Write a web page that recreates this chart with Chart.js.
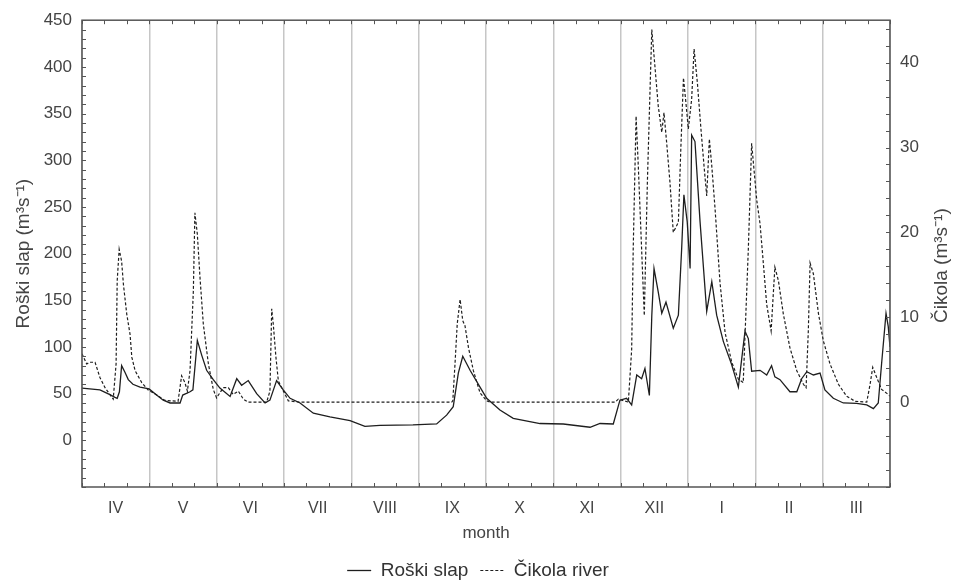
<!DOCTYPE html>
<html>
<head>
<meta charset="utf-8">
<script src="https://cdn.jsdelivr.net/npm/chart.js@4.4.1/dist/chart.umd.min.js"></script>
<style>
  html, body { margin: 0; padding: 0; background: #fff; }
</style>
</head>
<body>
<canvas id="flow" width="956" height="584"></canvas>
<script>
var months = ["IV", "V", "VI", "VII", "VIII", "IX", "X", "XI", "XII", "I", "II", "III"]
var leftTicks = [0, 50, 100, 150, 200, 250, 300, 350, 400, 450]
var rightTicks = [0, 10, 20, 30, 40]

// day of the hydrological year (1 April = 0)
var roskiDay = [0, 8.1, 12.6, 14.9, 15.9, 16.9, 17.9, 19.4, 20.9, 23, 26.2, 30.3, 33.7, 36.7, 39.8, 44.3, 45.5, 48.8, 50.1, 52.1, 54.1, 56.3, 59.3, 62.3, 66.9, 69.9, 72.1, 75.1, 78.9, 82.7, 84.9, 87.9, 90.9, 94, 98.5, 104.5, 112, 121.1, 127.8, 134.6, 149.5, 160.2, 164.7, 167.7, 170, 172, 175.3, 179.8, 182.8, 188.8, 194.8, 206.9, 217.4, 229.5, 234, 240, 243, 246, 248.3, 250.6, 252.8, 254.3, 256.3, 257.4, 258.4, 260.3, 261.9, 263.8, 267.1, 269.4, 270.9, 271.9, 273.4, 274.7, 275.4, 276.9, 279.2, 282.2, 284.5, 286.7, 289.7, 293.5, 296.5, 299.5, 301, 302.5, 306.3, 309.3, 311.5, 313, 315.3, 319.8, 322.9, 325.1, 327.4, 330.4, 333.4, 335.6, 339.4, 343.9, 349.9, 354.5, 357.5, 359.7, 361.2, 363.2, 364.2, 365]
var roskiFlow = [56, 54, 49, 46, 45, 52, 80, 73, 65, 60, 57, 55, 48.5, 43, 40, 40, 48.5, 52, 54, 107, 91, 75, 65, 56, 47, 66, 59, 64, 50, 40, 43, 64, 54, 45, 40, 29, 25, 21, 15, 16, 16.5, 17.5, 27, 36, 72, 90, 75, 57, 45, 32.5, 23.6, 18, 17.5, 14, 18, 17.5, 43, 45, 38, 70, 66, 77, 48, 134, 184, 159, 136, 148, 120, 134, 206, 263, 234, 184, 327, 320, 234, 138, 170, 134, 106, 81, 57, 117, 109, 74, 75, 70, 80, 68, 65, 52, 52, 66, 73.5, 70, 72, 54, 45, 40, 39.6, 38, 34, 40, 82, 136, 122, 100]

var cikolaDay = [0, 2.1, 3.6, 5.9, 8.1, 10.4, 12.6, 14.1, 15.4, 15.9, 16.8, 17.9, 18.7, 20.2, 21.7, 22.5, 24, 27, 30, 32.2, 37.5, 43.4, 45, 46.5, 47.6, 48.8, 50.3, 51, 52.1, 53.3, 54.8, 57.1, 59.3, 60.8, 63.8, 66.1, 68.3, 70.6, 72.9, 75.1, 83.4, 84.9, 85.7, 86.4, 87.6, 88.7, 90.2, 93.2, 98.5, 167, 167.5, 168.5, 169.5, 170.8, 172, 173, 174.6, 176.8, 179.8, 182.8, 184.3, 240.8, 242.3, 246.8, 248.3, 249, 250.3, 251.3, 252.8, 254, 255.4, 256.3, 257.4, 258.8, 260.3, 261.9, 262.9, 264.1, 265.6, 267.1, 269.4, 270.5, 271.7, 272.8, 273.9, 275.4, 276.5, 278, 279.5, 281, 282.2, 283.4, 284.5, 286, 288.2, 290.5, 293.5, 296.5, 298.7, 301, 302.5, 304.8, 306.3, 307.8, 309.3, 311.3, 313, 314.6, 316.8, 319.8, 322.9, 325.9, 327.1, 328.1, 328.9, 330.4, 332.7, 334.9, 337.9, 341.7, 345.4, 349.2, 354.5, 356, 357.2, 359, 361.2, 364.2, 365]
var cikolaFlow = [5.7, 4.5, 4.7, 4.7, 2.9, 1.7, 0.9, 0.35, 4.5, 14.3, 18, 16.6, 13.9, 10.4, 8, 5.3, 3.7, 2.3, 1.4, 1.1, 0.2, 0.1, 3.1, 2.3, 1.3, 3.7, 13.1, 22.3, 19.8, 14.7, 9.2, 4.5, 1.5, 0.5, 1.7, 1.7, 0.9, 1.3, 0.35, 0, 0, 1.3, 11, 9.2, 5.3, 2.5, 1.7, 0.15, 0, 0, 0.15, 4.5, 9.2, 12.1, 9.6, 9, 6.4, 3.7, 1.1, 0.15, 0, 0, 0.35, 0, 6.2, 18, 33.7, 27.8, 18, 10.2, 25.9, 34.1, 43.9, 39.6, 34.9, 31.8, 34.1, 30.6, 25.9, 20, 21.2, 29.8, 38.2, 35.3, 32.2, 35.7, 41.6, 37.6, 32.5, 27.8, 24.3, 31, 27.8, 22.7, 14.1, 8.2, 4.7, 2.7, 2.3, 18, 30.5, 23.8, 21, 16.3, 11.5, 8.4, 15.9, 14.3, 10.4, 6.4, 3.7, 2.1, 1.7, 8.4, 16.4, 15.1, 10.4, 7.2, 4.5, 2.1, 0.7, 0.1, 0, 2.1, 4.1, 2.9, 1.5, 0.9, 0.7]

var yearDays = 365
var monthLen = yearDays / 12
var fontFamily = "'Liberation Sans', Arial, sans-serif"
var textColor = '#444'

function points(days, vals) {
  return days.map((d, i) => ({ x: d, y: vals[i] }))
}

// frame, inward minor ticks and the right axis title (reads bottom to top)
var frame = {
  id: 'frame',
  afterDraw(chart) {
    var a = chart.chartArea, ctx = chart.ctx, s = chart.scales
    ctx.save()
    ctx.strokeStyle = '#555'
    ctx.lineWidth = 1
    ctx.beginPath()
    for (var v = -50; v <= 450; v += 10) {
      var y = Math.round(s.y.getPixelForValue(v)) + 0.5
      ctx.moveTo(a.left, y); ctx.lineTo(a.left + 4, y)
    }
    for (v = -10; v <= 45; v += 2) {
      y = Math.round(s.y2.getPixelForValue(v)) + 0.5
      ctx.moveTo(a.right, y); ctx.lineTo(a.right - 4, y)
    }
    for (var i = 0; i <= 36; i++) {
      var x = Math.round(s.x.getPixelForValue(i * yearDays / 36)) + 0.5
      ctx.moveTo(x, a.top); ctx.lineTo(x, a.top + 4)
      ctx.moveTo(x, a.bottom); ctx.lineTo(x, a.bottom - 4)
    }
    ctx.stroke()
    ctx.lineWidth = 1.5
    ctx.strokeRect(a.left, a.top, a.right - a.left, a.bottom - a.top)

    ctx.translate(942, (a.top + a.bottom) / 2 + 12)
    ctx.rotate(-Math.PI / 2)
    ctx.fillStyle = textColor
    ctx.font = '19px ' + fontFamily
    ctx.textAlign = 'center'
    ctx.textBaseline = 'middle'
    ctx.fillText('Čikola (m³s⁻¹)', 0, 0)
    ctx.restore()
  }
}

var ctx = document.getElementById('flow').getContext('2d')
var chart = new Chart(ctx, {
  type: 'line',
  data: {
    datasets: [{
      label: 'Roški slap',
      data: points(roskiDay, roskiFlow),
      yAxisID: 'y',
      borderColor: '#1e1e1e',
      backgroundColor: '#1e1e1e',
      borderWidth: 1.3,
      pointRadius: 0,
      tension: 0
    }, {
      label: 'Čikola river',
      data: points(cikolaDay, cikolaFlow),
      yAxisID: 'y2',
      borderColor: '#1e1e1e',
      backgroundColor: '#1e1e1e',
      borderWidth: 1.2,
      borderDash: [3, 2],
      pointRadius: 0,
      tension: 0
    }]
  },
  options: {
    responsive: false,
    animation: false,
    layout: { padding: { top: 20, left: 0, right: 0, bottom: -6 } },
    plugins: {
      tooltip: { enabled: false },
      legend: {
        position: 'bottom',
        labels: {
          usePointStyle: true,
          pointStyle: 'line',
          pointStyleWidth: 24,
          padding: 12,
          color: '#333',
          font: { size: 19, family: fontFamily },
          // keep the dataset dash in the legend line
          generateLabels: c => Chart.defaults.plugins.legend.labels.generateLabels(c).map(item => {
            var ds = c.data.datasets[item.datasetIndex]
            item.lineDash = ds.borderDash || []
            item.lineWidth = ds.borderWidth
            item.strokeStyle = ds.borderColor
            return item
          })
        }
      }
    },
    scales: {
      x: {
        type: 'linear',
        min: 0,
        max: yearDays,
        afterBuildTicks: s => { s.ticks = months.map((m, i) => ({ value: (i + 0.5) * monthLen })) },
        afterFit: s => { s.height = 62 },
        ticks: {
          callback: (v, i) => months[i],
          color: textColor,
          padding: 12,
          maxRotation: 0,
          font: { size: 16, family: fontFamily }
        },
        grid: { offset: true, color: '#c6c6c6', lineWidth: 1.5, drawTicks: false },
        border: { display: false },
        title: {
          display: true,
          text: 'month',
          color: textColor,
          padding: { top: 4, bottom: 5 },
          font: { size: 17, family: fontFamily }
        }
      },
      y: {
        position: 'left',
        min: -50,
        max: 450,
        afterBuildTicks: s => { s.ticks = leftTicks.map(v => ({ value: v })) },
        afterFit: s => { s.width = 82 },
        ticks: {
          color: textColor,
          padding: 10,
          font: { size: 17, family: fontFamily }
        },
        grid: { display: false, drawTicks: false },
        border: { display: false },
        title: {
          display: true,
          text: 'Roški slap (m³s⁻¹)',
          color: textColor,
          padding: { top: 12 },
          font: { size: 19, family: fontFamily }
        }
      },
      y2: {
        position: 'right',
        min: -10,
        max: 45,
        afterBuildTicks: s => { s.ticks = rightTicks.map(v => ({ value: v })) },
        afterFit: s => { s.width = 66 },
        ticks: {
          color: textColor,
          padding: 10,
          font: { size: 17, family: fontFamily }
        },
        grid: { display: false, drawTicks: false },
        border: { display: false }
      }
    }
  },
  plugins: [frame]
});
</script>
</body>
</html>
